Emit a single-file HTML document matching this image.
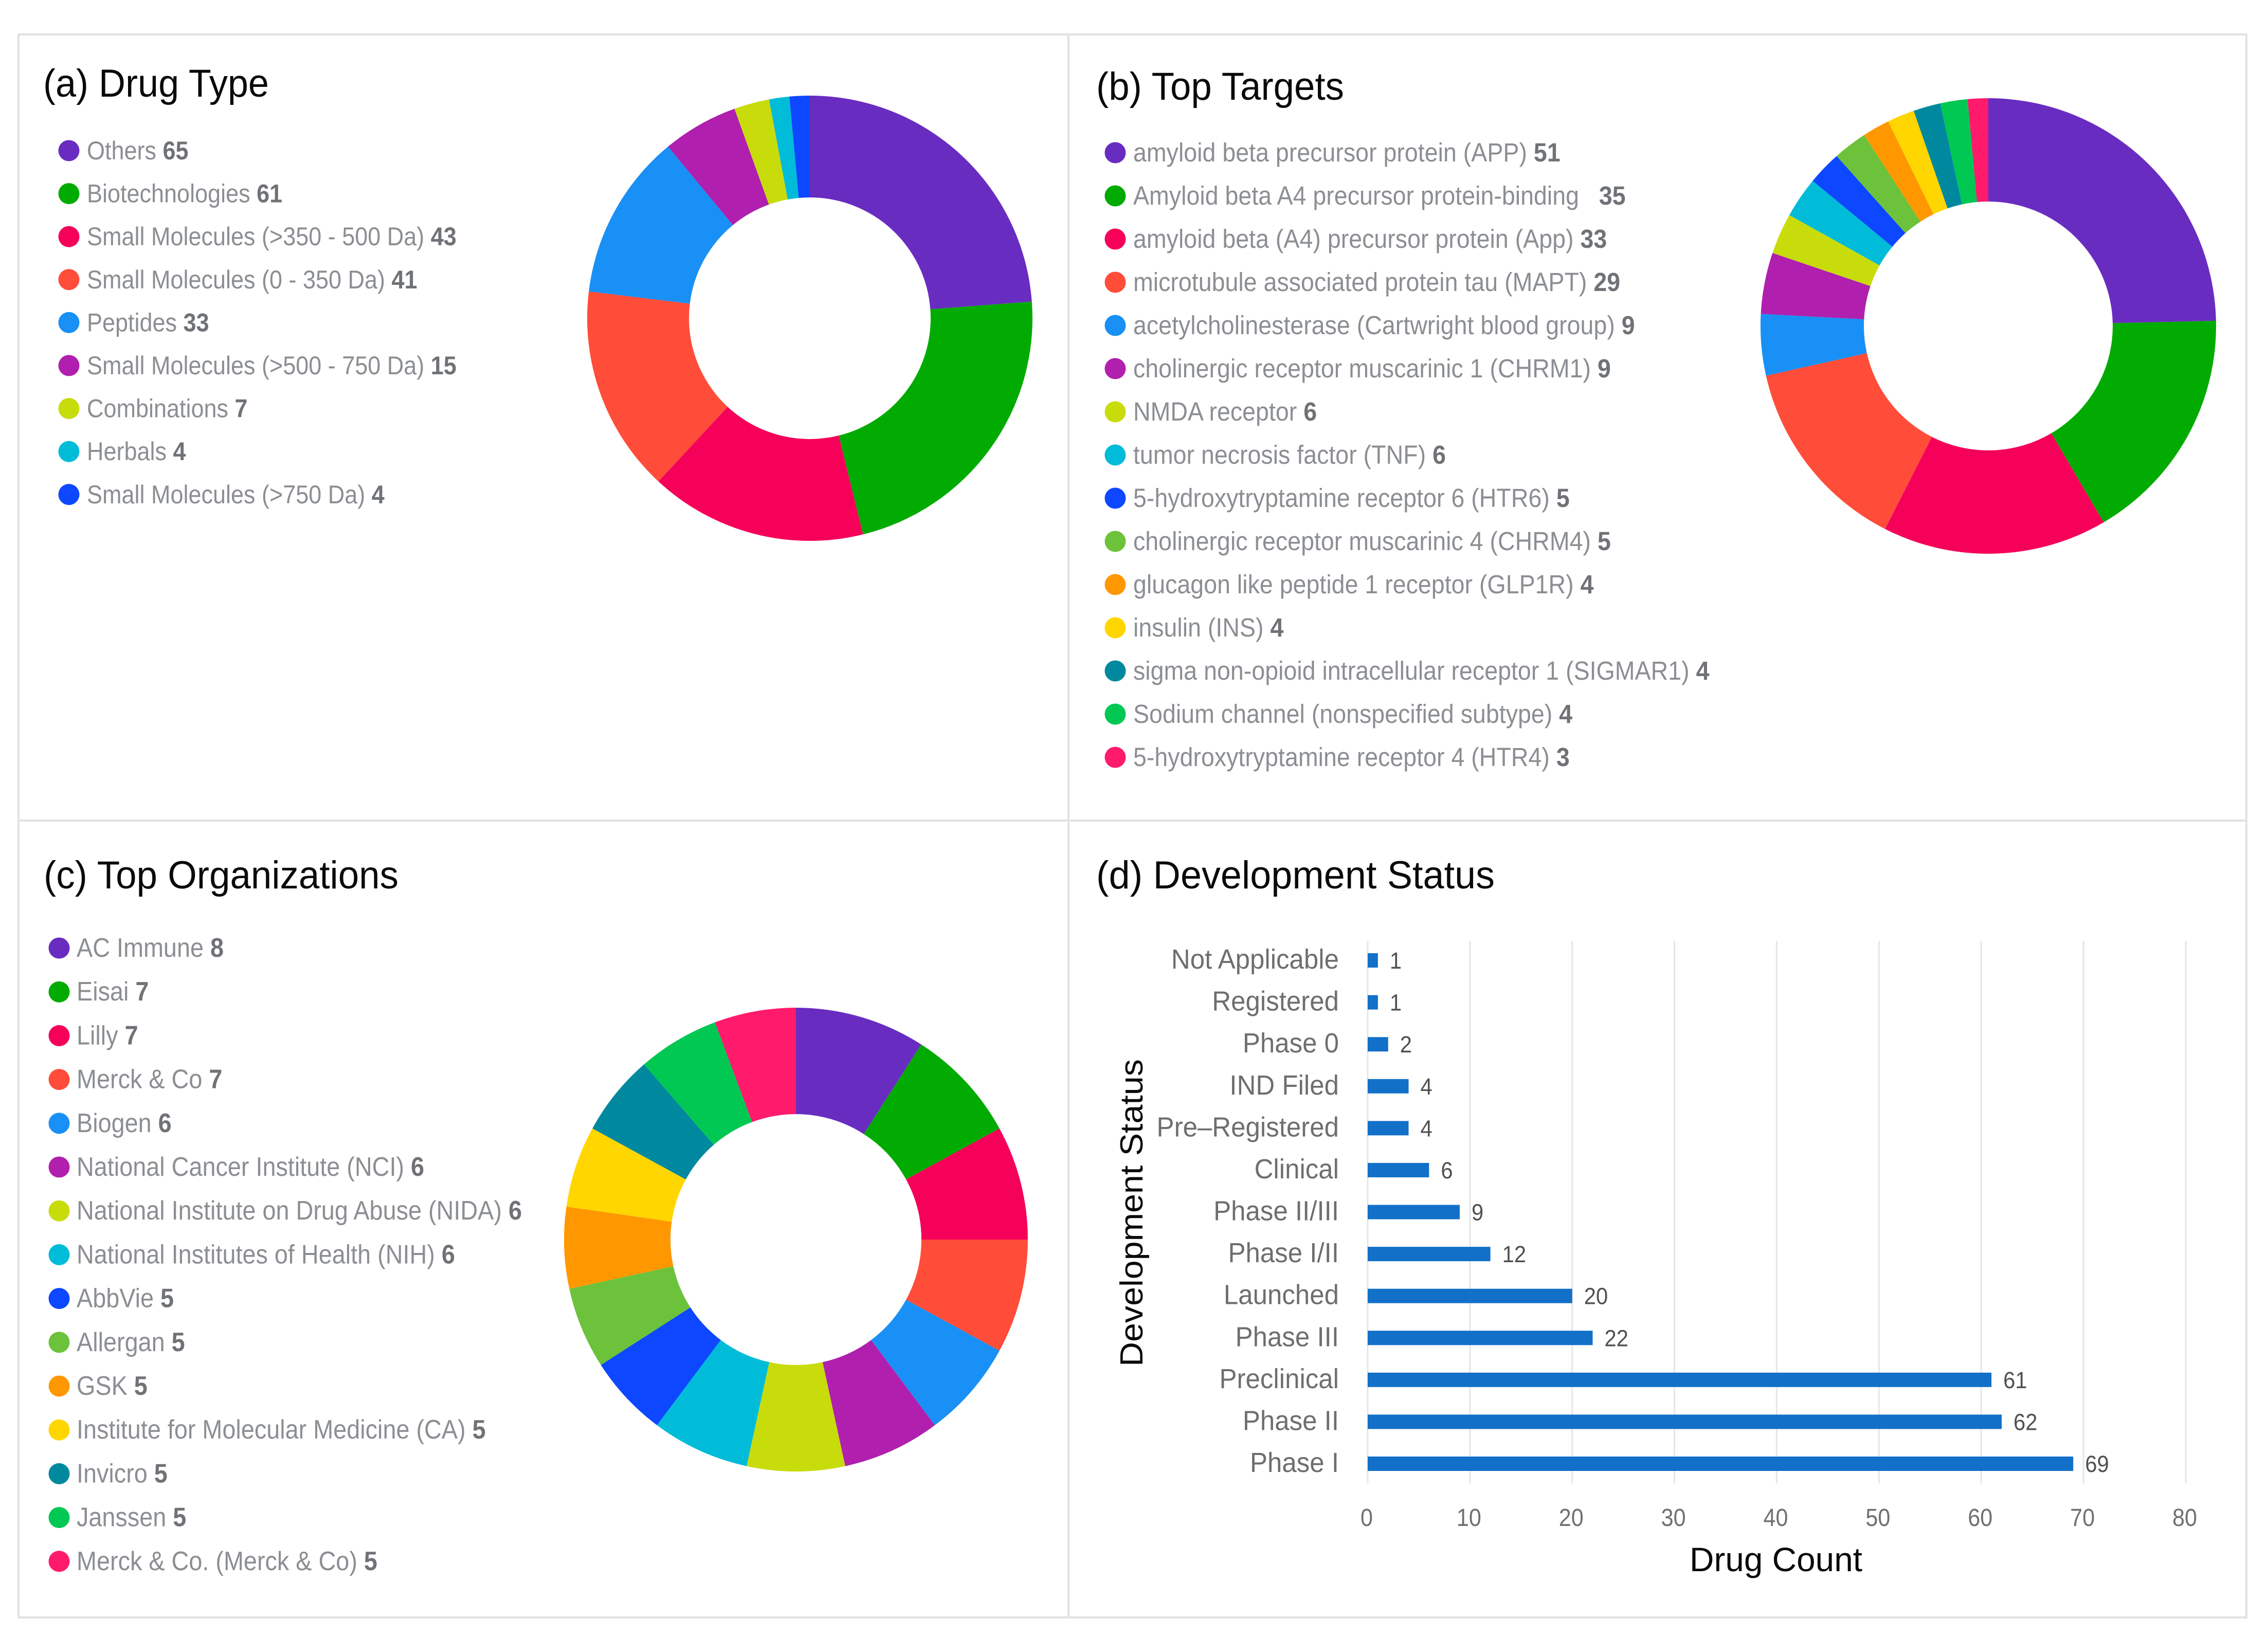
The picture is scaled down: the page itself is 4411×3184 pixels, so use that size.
<!DOCTYPE html>
<html lang="en">
<head>
<meta charset="utf-8">
<title>Drug Type, Top Targets, Top Organizations and Development Status</title>
<style>
html,body{margin:0;padding:0;background:#fff;width:4411px;height:3184px;overflow:hidden}
svg{display:block}
text{font-family:"Liberation Sans",sans-serif;white-space:pre}
.title{font-size:76px;fill:#0a0a0a}
.legend{fill:#8b8e92}
.legend .val{font-weight:bold;fill:#6f7276}
.cat{font-size:54px;fill:#6e6e6e;text-anchor:end}
.tick{font-size:48px;fill:#707070;text-anchor:middle}
.dlabel{font-size:45px;fill:#505050}
</style>
</head>
<body>
<svg id="fig" xmlns="http://www.w3.org/2000/svg" width="4411" height="3184" viewBox="0 0 4411 3184">
  <rect x="0" y="0" width="4411" height="3184" fill="#fff"/>
  <g fill="none" stroke="#e2e2e2" stroke-width="4">
    <rect x="36" y="67" width="4333" height="3079"/>
    <line x1="2078" y1="67" x2="2078" y2="3146"/>
    <line x1="36" y1="1596" x2="4369" y2="1596"/>
  </g>
  <text class="title" x="84" y="188" textLength="439" lengthAdjust="spacingAndGlyphs">(a) Drug Type</text>
  <text class="title" x="2132" y="194" textLength="482" lengthAdjust="spacingAndGlyphs">(b) Top Targets</text>
  <text class="title" x="85" y="1728" textLength="690" lengthAdjust="spacingAndGlyphs">(c) Top Organizations</text>
  <text class="title" x="2132" y="1728" textLength="775" lengthAdjust="spacingAndGlyphs">(d) Development Status</text>
  <g id="panelA"></g>
  <g id="panelB"></g>
  <g id="panelC"></g>
  <g id="panelD"></g>
</svg>
<script>
const sliceColors = ["#692cc1","#02ab02","#f5015a","#ff4d3a","#1890f5","#b01fae","#c8dc0c","#00bcd8","#0d47ff","#6cc23a","#ff9800","#ffd600","#00899e","#00c853","#ff1a6b"];

const drugTypeLabels = ["Others","Biotechnologies","Small Molecules (>350 - 500 Da)","Small Molecules (0 - 350 Da)","Peptides","Small Molecules (>500 - 750 Da)","Combinations","Herbals","Small Molecules (>750 Da)"];
const drugTypeValues = [65,61,43,41,33,15,7,4,4];

const targetLabels = ["amyloid beta precursor protein (APP)","Amyloid beta A4 precursor protein-binding  ","amyloid beta (A4) precursor protein (App)","microtubule associated protein tau (MAPT)","acetylcholinesterase (Cartwright blood group)","cholinergic receptor muscarinic 1 (CHRM1)","NMDA receptor","tumor necrosis factor (TNF)","5-hydroxytryptamine receptor 6 (HTR6)","cholinergic receptor muscarinic 4 (CHRM4)","glucagon like peptide 1 receptor (GLP1R)","insulin (INS)","sigma non-opioid intracellular receptor 1 (SIGMAR1)","Sodium channel (nonspecified subtype)","5-hydroxytryptamine receptor 4 (HTR4)"];
const targetValues = [51,35,33,29,9,9,6,6,5,5,4,4,4,4,3];

const orgLabels = ["AC Immune","Eisai","Lilly","Merck & Co","Biogen","National Cancer Institute (NCI)","National Institute on Drug Abuse (NIDA)","National Institutes of Health (NIH)","AbbVie","Allergan","GSK","Institute for Molecular Medicine (CA)","Invicro","Janssen","Merck & Co. (Merck & Co)"];
const orgValues = [8,7,7,7,6,6,6,6,5,5,5,5,5,5,5];

const statusCategories = ["Not Applicable","Registered","Phase 0","IND Filed","Pre\u2013Registered","Clinical","Phase II/III","Phase I/II","Launched","Phase III","Preclinical","Phase II","Phase I"];
const statusCounts = [1,1,2,4,4,6,9,12,20,22,61,62,69];
const countTicks = [0,10,20,30,40,50,60,70,80];

const NS = "http://www.w3.org/2000/svg";
function make(tag, parent, attrs, txt) {
  const node = document.createElementNS(NS, tag);
  for (const k in attrs) node.setAttribute(k, attrs[k]);
  if (txt !== undefined) node.textContent = txt;
  parent.appendChild(node);
  return node;
}

function drawDonut(parent, values, cx, cy, rOuter, rInner) {
  const total = values.reduce((a, b) => a + b, 0);
  const pt = (r, frac) => {
    const t = frac * 2 * Math.PI;
    return (cx + r * Math.sin(t)).toFixed(2) + " " + (cy - r * Math.cos(t)).toFixed(2);
  };
  let acc = 0;
  values.forEach((v, i) => {
    const a = acc / total, b = (acc + v) / total;
    acc += v;
    const large = (b - a) > 0.5 ? 1 : 0;
    const d = "M" + pt(rOuter, a) + "A" + rOuter + " " + rOuter + " 0 " + large + " 1 " + pt(rOuter, b) +
              "L" + pt(rInner, b) + "A" + rInner + " " + rInner + " 0 " + large + " 0 " + pt(rInner, a) + "Z";
    const el = make("path", parent, {d: d, fill: sliceColors[i]});
    
    
  });
}

function drawLegend(parent, labels, values, dotX, textX, y0, step, fontSize, sx) {
  labels.forEach((label, i) => {
    const y = y0 + i * step;
    const entry = make("g", parent, {});
    
    
    const dot = make("circle", entry, {cx: dotX, cy: y, r: 20.5, fill: sliceColors[i]});
    
    
    const t = make("text", entry, {class: "legend", "font-size": fontSize, transform: "translate(" + textX + "," + (y + 17) + ") scale(" + sx + ",1)"}, label + " ");
    
    
    const v = make("tspan", t, {class: "val"}, String(values[i]));
    
    
  });
}

drawLegend(document.getElementById("panelA"), drugTypeLabels, drugTypeValues, 134, 169, 293, 83.6, 50, 0.90);
drawDonut(document.getElementById("panelA"), drugTypeValues, 1575, 619, 433, 235);

drawLegend(document.getElementById("panelB"), targetLabels, targetValues, 2169, 2204, 297, 84, 51, 0.913);
drawDonut(document.getElementById("panelB"), targetValues, 3867, 634, 443, 242);

drawLegend(document.getElementById("panelC"), orgLabels, orgValues, 115, 149, 1844, 85.2, 52, 0.90);
drawDonut(document.getElementById("panelC"), orgValues, 1548, 2411, 451, 244);

/* Panel d: horizontal bar chart */
const panelD = document.getElementById("panelD");
const xOf = v => 2660 + v * (4251 - 2660) / 80;
const yOf = i => 1868 + i * (2847 - 1868) / 12;

countTicks.forEach(tick => {
  const g = make("line", panelD, {x1: xOf(tick), x2: xOf(tick), y1: 1830, y2: 2885, stroke: "#e6e6e6", "stroke-width": 3});
  
  
  const l = make("text", panelD, {class: "tick", transform: "translate(" + (xOf(tick) - 2) + ",2968) scale(0.9,1)"}, String(tick));
  
  
});

statusCategories.forEach((cat, i) => {
  const y = yOf(i);
  const c = make("text", panelD, {class: "cat", transform: "translate(2604," + (y + 16) + ") scale(0.945,1)"}, cat);
  
  
  const bar = make("rect", panelD, {x: xOf(0), y: y - 14, width: xOf(statusCounts[i]) - xOf(0), height: 28, fill: "#1270c8"});
  
  
  const d = make("text", panelD, {class: "dlabel", transform: "translate(" + (xOf(statusCounts[i]) + 23) + "," + (y + 16) + ") scale(0.93,1)"}, String(statusCounts[i]));
  
  
});

const xTitle = make("text", panelD, {x: 3286, y: 3056, "font-size": 66, fill: "#0a0a0a", textLength: 336, lengthAdjust: "spacingAndGlyphs"}, "Drug Count");



const yTitle = make("text", panelD, {transform: "translate(2222,2658) rotate(-90)", "font-size": 62, fill: "#0a0a0a", textLength: 598, lengthAdjust: "spacingAndGlyphs"}, "Development Status");


</script>
</body>
</html>
